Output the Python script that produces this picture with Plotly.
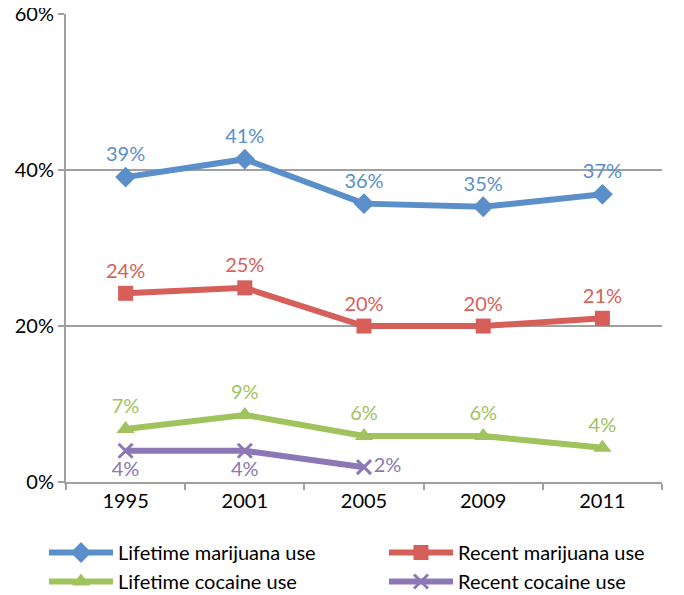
import plotly.graph_objects as go

years = ["1995", "2001", "2005", "2009", "2011"]
lifetime_marijuana = [39.1, 41.4, 35.7, 35.3, 36.9]
recent_marijuana = [24.2, 24.9, 20.0, 20.0, 21.0]
lifetime_cocaine = [6.8, 8.6, 5.9, 5.9, 4.4]
recent_cocaine = [4.0, 4.0, 1.9]
y_ticks = [0, 20, 40, 60]
y_tick_labels = ["0%", "20%", "40%", "60%"]

FONT = "Lato, 'Open Sans', sans-serif"
BLUE = "#5b8fc9"
RED = "#d65f5a"
GREEN = "#a0c35e"
PURPLE = "#8c78b4"
GRID = "#a0a0a0"

# page body has an 8px margin; figure sized to fill the rest of the window
OFF = 8
W, H = 684 - OFF, 595 - OFF
PLOT_L, PLOT_R, PLOT_T, PLOT_B = 66 - OFF, 662 - OFF, 14 - OFF, 482 - OFF
PW, PH = PLOT_R - PLOT_L, PLOT_B - PLOT_T

fig = go.Figure()

def add(name, x, y, color, symbol, size, textpos, legend, group, mline=None):
    marker = dict(symbol=symbol, size=size, color=color)
    if mline:
        marker["line"] = mline
    fig.add_trace(go.Scatter(
        x=x, y=y, name=name, mode="lines+markers+text",
        line=dict(color=color, width=6),
        marker=marker,
        texttemplate="%{y:.0f}%",
        textposition=textpos,
        textfont=dict(family=FONT, size=20, color=color),
        cliponaxis=False,
        legend=legend, legendgroup=group,
    ))

add("Lifetime marijuana use", years, lifetime_marijuana, BLUE, "diamond", 16,
    "top center", "legend", "a")
add("Recent marijuana use", years, recent_marijuana, RED, "square", 15,
    "top center", "legend2", "b")
add("Lifetime cocaine use", years, lifetime_cocaine, GREEN, "triangle-up", 16,
    "top center", "legend", "c")
add("Recent cocaine use", years[:3], recent_cocaine, PURPLE, "x-thin", 14,
    ["bottom center", "bottom center", "middle right"], "legend2", "d",
    mline=dict(color=PURPLE, width=3))

legend_common = dict(
    orientation="v", xanchor="left", yanchor="top",
    y=-(533 - OFF - PLOT_B) / PH,
    traceorder="normal", tracegroupgap=5, itemwidth=64,
    font=dict(family=FONT, size=20, color="black"),
    bgcolor="rgba(0,0,0,0)",
)

fig.update_layout(
    width=W, height=H,
    margin=dict(l=PLOT_L, r=W - PLOT_R, t=PLOT_T, b=H - PLOT_B, autoexpand=False),
    plot_bgcolor="white", paper_bgcolor="white",
    font=dict(family=FONT, size=20, color="black"),
    showlegend=True,
    legend=dict(legend_common, x=(44 - OFF - PLOT_L) / PW),
    legend2=dict(legend_common, x=(384 - OFF - PLOT_L) / PW),
    xaxis=dict(
        type="category", range=[-0.5, 4.5], automargin=False,
        showline=True, linecolor=GRID, linewidth=2,
        ticks="outside", tickson="boundaries", ticklen=6, tickcolor=GRID, tickwidth=2,
        showgrid=False, tickfont=dict(family=FONT, size=20, color="black"),
    ),
    yaxis=dict(
        range=[0, 60.02], tickvals=y_ticks, ticktext=y_tick_labels, automargin=False,
        ticklabeloverflow="allow",
        showline=True, linecolor=GRID, linewidth=2,
        showgrid=True, gridcolor=GRID, gridwidth=2,
        ticks="outside", ticklen=6, tickcolor=GRID, tickwidth=2,
        zeroline=False, tickfont=dict(family=FONT, size=20, color="black"),
    ),
)

fig.write_html("out.html")
